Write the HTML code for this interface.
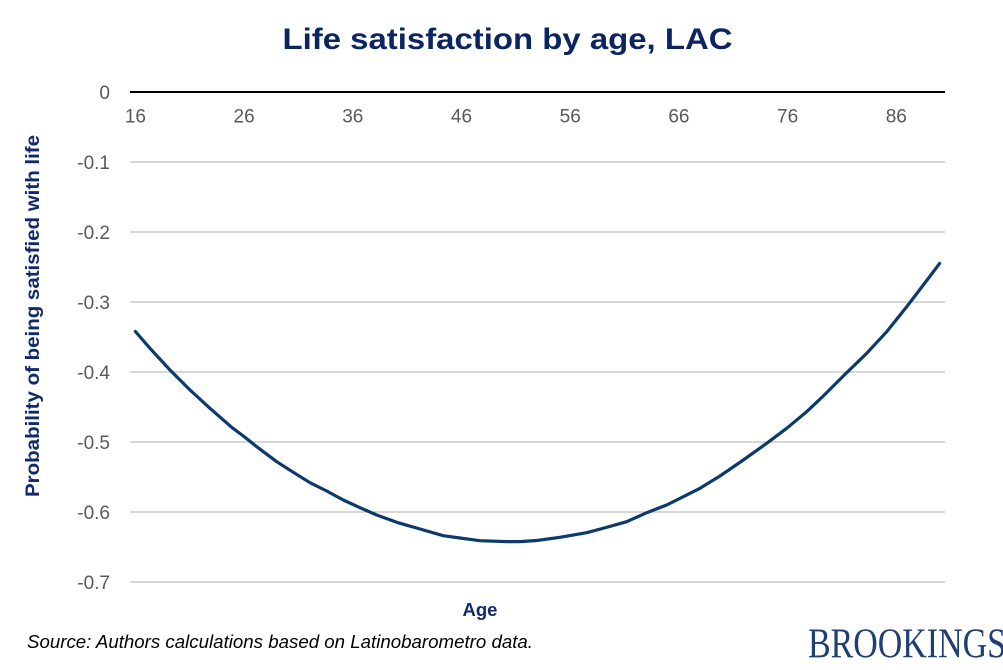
<!DOCTYPE html>
<html>
<head>
<meta charset="utf-8">
<style>
html,body{margin:0;padding:0;background:#fff;}
svg{display:block;}
text{font-family:"Liberation Sans",Arial,sans-serif;}
</style>
</head>
<body>
<svg width="1003" height="670" viewBox="0 0 1003 670" xmlns="http://www.w3.org/2000/svg">
<rect width="1003" height="670" fill="#fff"/>
<text x="507.5" y="49" text-anchor="middle" font-size="30" font-weight="bold" fill="#0b2462" textLength="450" lengthAdjust="spacingAndGlyphs">Life satisfaction by age, LAC</text>

<g stroke="#bfbfbf" stroke-width="1.2">
<line x1="130" y1="162" x2="945" y2="162"/>
<line x1="130" y1="232" x2="945" y2="232"/>
<line x1="130" y1="302" x2="945" y2="302"/>
<line x1="130" y1="372" x2="945" y2="372"/>
<line x1="130" y1="442" x2="945" y2="442"/>
<line x1="130" y1="512" x2="945" y2="512"/>
<line x1="130" y1="582" x2="945" y2="582"/>
</g>
<line x1="130" y1="92" x2="945" y2="92" stroke="#000" stroke-width="2"/>

<g font-size="19" fill="#595959" text-anchor="end">
<text x="110" y="98.8">0</text>
<text x="110" y="168.8">-0.1</text>
<text x="110" y="238.8">-0.2</text>
<text x="110" y="308.8">-0.3</text>
<text x="110" y="378.8">-0.4</text>
<text x="110" y="448.8">-0.5</text>
<text x="110" y="518.8">-0.6</text>
<text x="110" y="588.8">-0.7</text>
</g>
<g font-size="19" fill="#595959" text-anchor="middle">
<text x="135.4" y="122.5">16</text>
<text x="244.1" y="122.5">26</text>
<text x="352.8" y="122.5">36</text>
<text x="461.5" y="122.5">46</text>
<text x="570.2" y="122.5">56</text>
<text x="678.9" y="122.5">66</text>
<text x="787.6" y="122.5">76</text>
<text x="896.3" y="122.5">86</text>
</g>

<polyline fill="none" stroke="#0c3a6b" stroke-width="3.2" stroke-linejoin="round" stroke-linecap="round"
points="135.4,331.5 150,348.3 170,370 190,390 210,408.3 231.7,427.3 243.3,436 256.7,446.7 276.7,461.7 293.3,472.3 310,482.7 326.7,491 343.3,500 360,507.7 376.7,515 396.7,522.3 420,529 443.3,535.7 460,538 480,540.7 506.7,541.6 520,541.6 536.7,540.5 560,537.3 586.7,532.7 606,527.5 626.7,521.7 646.7,512.7 666.7,505 683.3,496.7 700,488.3 720,476 743.3,460 766.7,443.3 786.7,428.3 806.7,411.7 823.3,396 843.3,376 866.7,353.3 886.7,331.7 906.7,306.7 923.3,285 939.6,263.5"/>

<text transform="translate(39,316) rotate(-90)" text-anchor="middle" font-size="19" font-weight="bold" fill="#102a6b" textLength="362" lengthAdjust="spacingAndGlyphs">Probability of being satisfied with life</text>

<text x="480" y="616" text-anchor="middle" font-size="18.5" font-weight="bold" fill="#102a6b">Age</text>

<text x="27" y="648" font-size="18" font-style="italic" fill="#000" textLength="506" lengthAdjust="spacingAndGlyphs">Source: Authors calculations based on Latinobarometro data.</text>

<text x="808" y="657.5" style="font-family:'Liberation Serif','DejaVu Serif',serif" font-size="42" fill="#1f3f74" textLength="198" lengthAdjust="spacingAndGlyphs">BROOKINGS</text>
</svg>
</body>
</html>
